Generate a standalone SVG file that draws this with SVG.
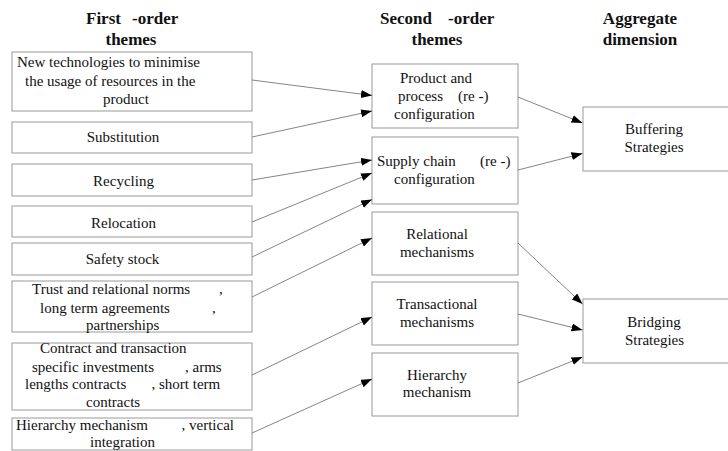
<svg xmlns="http://www.w3.org/2000/svg" width="728" height="451" viewBox="0 0 728 451">
<defs>
<style>
.box{fill:#fff;stroke:#999;stroke-width:1}
.t{font-family:'Liberation Serif','Times New Roman','DejaVu Serif',serif;font-size:15px;fill:#111}
.m{text-anchor:middle}
.h{font-family:'Liberation Serif','Times New Roman','DejaVu Serif',serif;font-size:17px;font-weight:bold;fill:#111}
.c{stroke:#666;stroke-width:0.8;fill:none;marker-end:url(#ah)}
</style>
<marker id="ah" markerUnits="userSpaceOnUse" markerWidth="12" markerHeight="9" refX="11" refY="4" orient="auto">
<path d="M0,0 L11,4 L0,8 z" fill="#000"/>
</marker>
</defs>
<rect width="728" height="451" fill="#fff"/>
<g id="headers" font-family="Liberation Serif, serif">
<text class="h" y="24"><tspan x="86">First</tspan><tspan x="132">-order</tspan></text>
<text class="h m" x="131" y="45">themes</text>
<text class="h" y="24"><tspan x="380">Second</tspan><tspan x="448">-order</tspan></text>
<text class="h m" x="437" y="45">themes</text>
<text class="h m" x="640" y="24">Aggregate</text>
<text class="h m" x="640" y="45">dimension</text>
</g>
<g id="f1"><rect class="box" x="12" y="52" width="240" height="59"/>
<text class="t" x="17" y="67">New technologies to minimise</text>
<text class="t" x="25" y="85.5">the usage of resources in the</text>
<text class="t" x="103" y="104">product</text></g>
<g id="f2"><rect class="box" x="12" y="122" width="240" height="31"/>
<text class="t m" x="123" y="142">Substitution</text></g>
<g id="f3"><rect class="box" x="12" y="164" width="240" height="32"/>
<text class="t m" x="123.5" y="185.5">Recycling</text></g>
<g id="f4"><rect class="box" x="12" y="206" width="240" height="31"/>
<text class="t m" x="123.5" y="227.5">Relocation</text></g>
<g id="f5"><rect class="box" x="12" y="243" width="240" height="32"/>
<text class="t m" x="122.5" y="264">Safety stock</text></g>
<g id="f6"><rect class="box" x="12" y="281" width="240" height="51"/>
<text class="t" y="294"><tspan x="32">Trust and relational norms</tspan><tspan x="219">,</tspan></text>
<text class="t" y="312.5"><tspan x="40">long term agreements</tspan><tspan x="212">,</tspan></text>
<text class="t" x="86" y="329.5">partnerships</text></g>
<g id="f7"><rect class="box" x="12" y="343" width="240" height="67"/>
<text class="t" x="40" y="353">Contract and transaction</text>
<text class="t" y="371.5"><tspan x="32">specific investments</tspan><tspan x="185">, arms</tspan></text>
<text class="t" y="389"><tspan x="25">lengths contracts</tspan><tspan x="151.5">, short term</tspan></text>
<text class="t" x="86" y="406.5">contracts</text></g>
<g id="f8"><rect class="box" x="12" y="418" width="240" height="32"/>
<text class="t" y="430"><tspan x="16">Hierarchy mechanism</tspan><tspan x="181.5">, vertical</tspan></text>
<text class="t" x="90" y="447">integration</text></g>
<g id="s1"><rect class="box" x="372" y="64" width="146" height="64"/>
<text class="t" x="400" y="83">Product and</text>
<text class="t" y="101"><tspan x="398">process</tspan><tspan x="458">(re -)</tspan></text>
<text class="t" x="394" y="118.5">configuration</text></g>
<g id="s2"><rect class="box" x="372" y="137" width="146" height="67"/>
<text class="t" y="166"><tspan x="377">Supply chain</tspan><tspan x="480">(re -)</tspan></text>
<text class="t" x="394" y="183.5">configuration</text></g>
<g id="s3"><rect class="box" x="372" y="212" width="146" height="63"/>
<text class="t m" x="437" y="239">Relational</text>
<text class="t m" x="437" y="256.5">mechanisms</text></g>
<g id="s4"><rect class="box" x="372" y="282" width="146" height="63"/>
<text class="t m" x="437" y="309">Transactional</text>
<text class="t m" x="437" y="327">mechanisms</text></g>
<g id="s5"><rect class="box" x="372" y="353" width="146" height="63"/>
<text class="t m" x="437" y="380">Hierarchy</text>
<text class="t m" x="437" y="397">mechanism</text></g>
<g id="a1"><rect class="box" x="583" y="107" width="146" height="64"/>
<text class="t m" x="654" y="134">Buffering</text>
<text class="t m" x="654" y="151.5">Strategies</text></g>
<g id="a2"><rect class="box" x="583" y="299" width="146" height="64"/>
<text class="t m" x="654" y="327">Bridging</text>
<text class="t m" x="654.5" y="344.5">Strategies</text></g>
<g id="connectors">
<line class="c" x1="252" y1="80" x2="372" y2="95.5"/>
<line class="c" x1="252" y1="137" x2="372" y2="111"/>
<line class="c" x1="252" y1="180" x2="372" y2="160"/>
<line class="c" x1="252" y1="222" x2="372" y2="173"/>
<line class="c" x1="252" y1="257" x2="372" y2="199.5"/>
<line class="c" x1="252" y1="297" x2="372" y2="238"/>
<line class="c" x1="252" y1="375" x2="372" y2="317"/>
<line class="c" x1="252" y1="433" x2="372" y2="379"/>
<line class="c" x1="518" y1="97" x2="582.5" y2="123"/>
<line class="c" x1="518" y1="170" x2="582.5" y2="153.5"/>
<line class="c" x1="518" y1="243" x2="582.5" y2="304"/>
<line class="c" x1="518" y1="314" x2="582.5" y2="330"/>
<line class="c" x1="518" y1="383" x2="582.5" y2="357"/>
</g>
</svg>
